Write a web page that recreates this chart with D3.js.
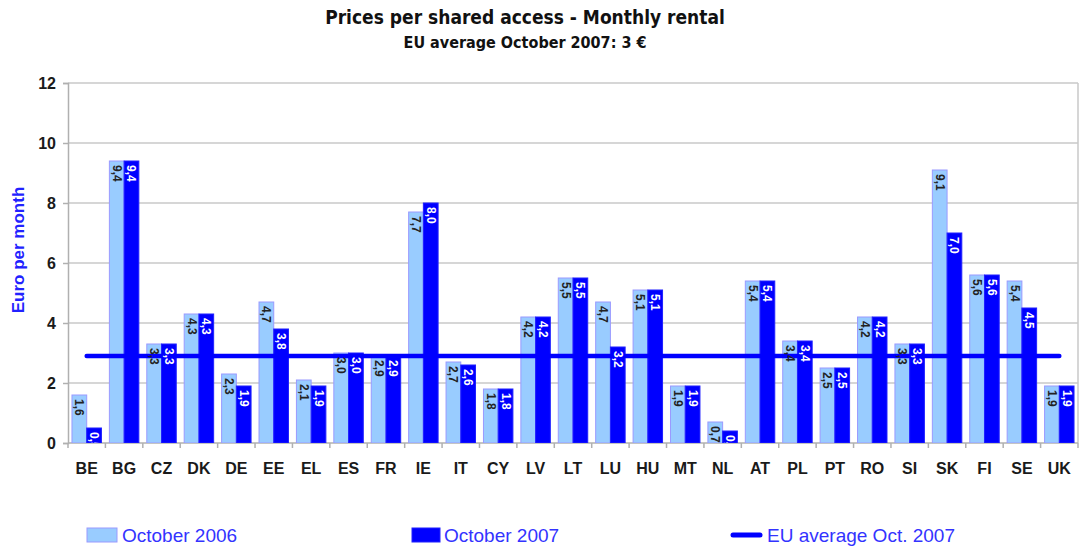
<!DOCTYPE html>
<html>
<head>
<meta charset="utf-8">
<script src="https://cdn.jsdelivr.net/npm/d3@7"></script>
<style>
  html, body { margin: 0; padding: 0; background: #fff; }
  svg { display: block; font-family: "Liberation Sans", Arial, sans-serif; }
</style>
</head>
<body>
<svg id="chart" width="1079" height="550"></svg>
<script>
const categories = ["BE","BG","CZ","DK","DE","EE","EL","ES","FR","IE","IT","CY","LV","LT","LU","HU","MT","NL","AT","PL","PT","RO","SI","SK","FI","SE","UK"];
const oct2006 = [1.6,9.4,3.3,4.3,2.3,4.7,2.1,3.0,2.9,7.7,2.7,1.8,4.2,5.5,4.7,5.1,1.9,0.7,5.4,3.4,2.5,4.2,3.3,9.1,5.6,5.4,1.9];
const oct2007 = [0.5,9.4,3.3,4.3,1.9,3.8,1.9,3.0,2.9,8.0,2.6,1.8,4.2,5.5,3.2,5.1,1.9,0.4,5.4,3.4,2.5,4.2,3.3,7.0,5.6,4.5,1.9];
const euAverage = 2.9;
const seriesNames = ["October 2006","October 2007"];
const legendLabels = ["October 2006","October 2007","EU average Oct. 2007"];
const yTicks = [0,2,4,6,8,10,12];
const chartTitle = "Prices per shared access - Monthly rental";
const chartSubtitle = "EU average October 2007: 3 €";
const yTitle = "Euro per month";

(function () {
const svg = d3.select("#chart");
const pLeft = 68, pRight = 1078, pTop = 83, pBottom = 443;

const x0 = d3.scaleBand().domain(categories).range([pLeft, pRight]).paddingInner(0).paddingOuter(0);
const x1 = d3.scaleBand().domain(seriesNames).range([0, x0.bandwidth()]).paddingInner(0).paddingOuter(0.27);
const y = d3.scaleLinear().domain([0, 12]).range([pBottom, pTop]);

const colors = { "October 2006": "#99ccff", "October 2007": "#0000ff" };
const strokes = { "October 2006": "#9a9aff", "October 2007": "#2020ff" };
const labelColors = { "October 2006": "#222", "October 2007": "#fff" };

// gridlines
svg.append("g").selectAll("line").data(yTicks.filter(d => d > 0)).join("line")
  .attr("x1", pLeft).attr("x2", pRight)
  .attr("y1", d => y(d)).attr("y2", d => y(d))
  .attr("stroke", "#c8c8c8").attr("stroke-width", 1.5);
svg.append("line").attr("x1", pRight).attr("x2", pRight).attr("y1", pTop).attr("y2", pBottom)
  .attr("stroke", "#c8c8c8").attr("stroke-width", 1.5);

// y axis
const yAxis = d3.axisLeft(y).tickValues(yTicks).tickSize(5).tickPadding(7).tickFormat(d3.format("d"));
const gy = svg.append("g").attr("transform", `translate(${pLeft},0)`).call(yAxis);
gy.select(".domain").attr("stroke", "#b0b0b0").attr("stroke-width", 1.5);
gy.selectAll(".tick line").attr("stroke", "#b0b0b0").attr("stroke-width", 1.5);
gy.selectAll(".tick text").attr("font-size", 16).attr("font-weight", "bold").attr("fill", "#1a1a1a")
  .attr("font-family", "'Liberation Sans', Arial, sans-serif");

// x axis
svg.append("line").attr("x1", pLeft).attr("x2", pRight).attr("y1", pBottom).attr("y2", pBottom)
  .attr("stroke", "#b0b0b0").attr("stroke-width", 1.5);
const boundaries = categories.map(c => x0(c)).concat([pRight]);
svg.append("g").selectAll("line").data(boundaries).join("line")
  .attr("x1", d => d).attr("x2", d => d).attr("y1", pBottom).attr("y2", pBottom + 5)
  .attr("stroke", "#b0b0b0").attr("stroke-width", 1.5);
svg.append("g").selectAll("text").data(categories).join("text")
  .attr("x", d => x0(d) + x0.bandwidth() / 2).attr("y", 474)
  .attr("text-anchor", "middle").attr("font-size", 16).attr("font-weight", "bold").attr("fill", "#1a1a1a")
  .text(d => d);

svg.append("clipPath").attr("id", "plotclip").append("rect")
  .attr("x", pLeft).attr("y", pTop - 20).attr("width", pRight - pLeft).attr("height", pBottom - pTop + 20);

const rows = categories.map((c, i) => ({ cat: c, vals: [
  { s: "October 2006", v: oct2006[i] }, { s: "October 2007", v: oct2007[i] }
]}));
const fmt = v => d3.format(".1f")(v).replace(".", ",");

const groups = svg.append("g").attr("clip-path", "url(#plotclip)")
  .selectAll("g").data(rows).join("g")
  .attr("transform", d => `translate(${x0(d.cat)},0)`);
groups.selectAll("rect").data(d => d.vals).join("rect")
  .attr("x", d => x1(d.s)).attr("width", x1.bandwidth())
  .attr("y", d => y(d.v)).attr("height", d => y(0) - y(d.v))
  .attr("fill", d => colors[d.s]).attr("stroke", d => strokes[d.s]).attr("stroke-width", 1);

svg.append("line")
  .attr("x1", x0(categories[0]) + x0.bandwidth() / 2)
  .attr("x2", x0(categories[categories.length - 1]) + x0.bandwidth() / 2)
  .attr("y1", y(euAverage)).attr("y2", y(euAverage))
  .attr("stroke", "#0000ff").attr("stroke-width", 4.5).attr("stroke-linecap", "round");

const lg = svg.append("g").attr("clip-path", "url(#plotclip)")
  .selectAll("g").data(rows).join("g")
  .attr("transform", d => `translate(${x0(d.cat)},0)`);
lg.selectAll("text").data(d => d.vals).join("text")
  .attr("transform", d => `translate(${x1(d.s) + x1.bandwidth() / 2},${y(d.v) + 4}) rotate(90)`)
  .attr("text-anchor", "start").attr("dominant-baseline", "central")
  .attr("font-size", 12).attr("font-weight", "bold")
  .attr("fill", d => labelColors[d.s])
  .text(d => fmt(d.v));

svg.append("text").attr("x", 525).attr("y", 24).attr("text-anchor", "middle")
  .attr("font-family", "'Liberation Sans Narrow', 'DejaVu Sans Condensed', sans-serif")
  .attr("font-size", 19).attr("font-weight", "bold").attr("fill", "#111").text(chartTitle);
svg.append("text").attr("x", 525).attr("y", 48).attr("text-anchor", "middle")
  .attr("font-family", "'Liberation Sans Narrow', 'DejaVu Sans Condensed', sans-serif")
  .attr("font-size", 16).attr("font-weight", "bold").attr("fill", "#111").text(chartSubtitle);

svg.append("text").attr("transform", "translate(24,250) rotate(-90)")
  .attr("text-anchor", "middle").attr("font-size", 17).attr("font-weight", "bold")
  .attr("fill", "#2222ff").text(yTitle);

const leg = svg.append("g");
leg.append("rect").attr("x", 87).attr("y", 528).attr("width", 30).attr("height", 14)
  .attr("fill", colors["October 2006"]).attr("stroke", strokes["October 2006"]);
leg.append("text").attr("x", 122).attr("y", 542).attr("font-size", 19).attr("fill", "#3333ff").text(legendLabels[0]);
leg.append("rect").attr("x", 412).attr("y", 528).attr("width", 28).attr("height", 14)
  .attr("fill", colors["October 2007"]).attr("stroke", strokes["October 2007"]);
leg.append("text").attr("x", 444).attr("y", 542).attr("font-size", 19).attr("fill", "#3333ff").text(legendLabels[1]);
leg.append("line").attr("x1", 733).attr("x2", 760).attr("y1", 535).attr("y2", 535)
  .attr("stroke", "#0000ff").attr("stroke-width", 5).attr("stroke-linecap", "round");
leg.append("text").attr("x", 767).attr("y", 542).attr("font-size", 19).attr("fill", "#3333ff").text(legendLabels[2]);
})();
</script>
</body>
</html>
